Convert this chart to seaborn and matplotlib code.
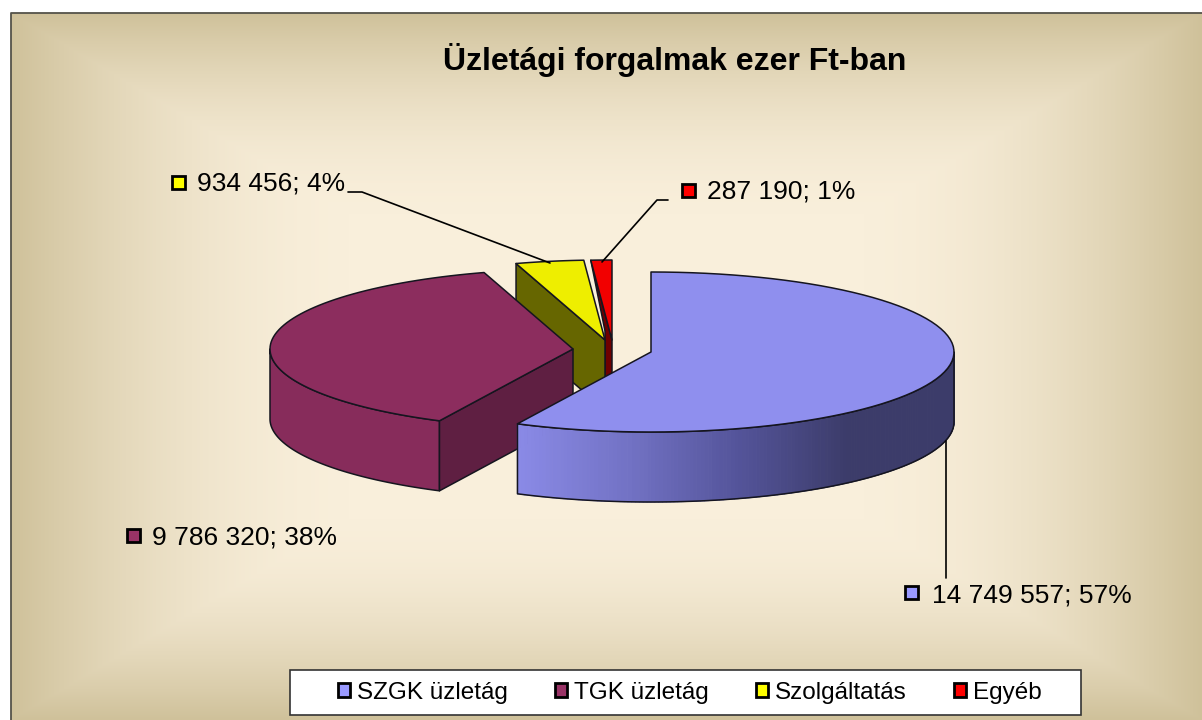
import numpy as np
import matplotlib
matplotlib.use("Agg")
import matplotlib.pyplot as plt
import seaborn as sns
from matplotlib.patches import Polygon, Rectangle, Patch
from matplotlib.collections import PolyCollection

# Data
categories = ["SZGK üzletág", "TGK üzletág", "Szolgáltatás", "Egyéb"]
values = [14749557, 9786320, 934456, 287190]
title = "Üzletági forgalmak ezer Ft-ban"

top_colors = ["#8f8fee", "#8c2d5e", "#eeee00", "#f20000"]
cut_colors = ["#3c3c6a", "#5f1f42", "#666600", "#6e0000"]
swatch_colors = ["#9999ff", "#993366", "#ffff00", "#ff0000"]

# Pie layout in image pixels
centers = [(651, 352), (573, 349), (605, 340), (612, 340)]
rx, ry, depth = 303, 80, 70

sns.set_theme(style="white")
plt.rcParams["font.family"] = ["Liberation Sans", "DejaVu Sans"]

fig = plt.figure(figsize=(12.02, 7.2), dpi=100, facecolor="white")
ax = fig.add_axes([0, 0, 1, 1])
ax.set_xlim(0, 1202)
ax.set_ylim(720, 0)
ax.axis("off")

# Background: rectangular gradient, flat cream box in the middle
x0, y0, x1, y1 = 11, 13, 1202, 720
n_shades = 256
bg_pal = np.array(sns.blend_palette(["#f9efdb", "#cfc19a"], n_shades))
xx, yy = np.meshgrid(np.linspace(-1, 1, x1 - x0), np.linspace(-1, 1, y1 - y0))
dist = np.maximum(np.abs(xx), np.abs(yy))
shade = np.clip((dist - 0.4) / 0.6, 0, 1) ** 1.9
bg = bg_pal[(shade * (n_shades - 1)).astype(int)]
ax.imshow(bg, extent=(x0, x1, y1, y0), aspect="auto", zorder=0, interpolation="bilinear")
ax.set_xlim(0, 1202)
ax.set_ylim(720, 0)
ax.plot([x0, x0, x1], [y1, y0, y0], color="#55534a", lw=1.3, zorder=1)

shares = np.array(values) / sum(values)
edges = np.concatenate([[0], np.cumsum(shares) * 360])


def arc(center, a0, a1, drop=0, n=80):
    # angles run clockwise from the top of the ellipse
    t = np.radians(np.linspace(a0, a1, n))
    return np.column_stack([center[0] + rx * np.sin(t), center[1] - ry * np.cos(t) + drop])


def wall(center, a0, a1):
    return np.vstack([arc(center, a0, a1), arc(center, a0, a1, depth)[::-1]])


def cut_face(center, angle):
    p = arc(center, angle, angle, n=1)[0]
    return [p, center, (center[0], center[1] + depth), (p[0], p[1] + depth)]


line = dict(edgecolor="#15151f", linewidth=1.1, joinstyle="round")

# Red slice: thin dark cut face, then the top
c = centers[3]
p = arc(c, edges[3], edges[3], n=1)[0]
strip = [p, c, (c[0], c[1] + depth), (c[0] - 7, c[1] + depth), (c[0] - 7, c[1] - 9)]
ax.add_patch(Polygon(strip, facecolor=cut_colors[3], zorder=3, **line))
ax.add_patch(Polygon(np.vstack([[c], arc(c, edges[3], edges[4])]), facecolor=top_colors[3], zorder=3, **line))

# Yellow slice
c = centers[2]
ax.add_patch(Polygon(cut_face(c, edges[2]), facecolor=cut_colors[2], zorder=4, **line))
ax.add_patch(Polygon(np.vstack([[c], arc(c, edges[2], edges[3])]), facecolor=top_colors[2], zorder=4, **line))

# Maroon slice
c = centers[1]
ax.add_patch(Polygon(wall(c, edges[1], 270), facecolor="#872c5b", zorder=5, **line))
ax.add_patch(Polygon(cut_face(c, edges[1]), facecolor=cut_colors[1], zorder=5, **line))
ax.add_patch(Polygon(np.vstack([[c], arc(c, edges[1], edges[2])]), facecolor=top_colors[1], zorder=5, **line))

# Blue slice: shaded outer wall made of thin strips
c = centers[0]
n_strips = 160
steps = np.linspace(90, edges[1], n_strips + 1)
strips = [wall(c, steps[i], steps[i + 1]) for i in range(n_strips)]
mid_x = np.array([s[:, 0].mean() for s in strips])
frac = (mid_x - mid_x.min()) / (mid_x.max() - mid_x.min())
wall_pal = np.array(sns.blend_palette(["#8a8ae6", "#7272c4", "#54549a", "#3c3c6a", "#3c3c6a"], 256))
strip_cols = wall_pal[(frac * 255).astype(int)]
ax.add_collection(PolyCollection(strips, facecolors=strip_cols, edgecolors=strip_cols, linewidths=0.8, zorder=6))
ax.add_patch(Polygon(wall(c, 90, edges[1]), facecolor="none", zorder=6, **line))
ax.add_patch(Polygon(np.vstack([[c], arc(c, 0, edges[1])]), facecolor=top_colors[0], zorder=6, **line))

# Leader lines
leaders = [
    ([946, 946], [441, 578]),
    ([348, 362, 550], [192, 192, 263]),
    ([668, 657, 602], [200, 200, 262]),
]
for lx, ly in leaders:
    ax.plot(lx, ly, color="black", lw=1.2, zorder=7)

# Data labels: swatch x, swatch y, text x, text y
label_pos = [(911, 593, 932, 595), (133, 536, 152, 538), (178, 183, 197, 184), (688, 191, 707, 192)]
for val, share, col, (sx, sy, tx, ty) in zip(values, shares, swatch_colors, label_pos):
    ax.add_patch(Rectangle((sx - 6.5, sy - 7), 13, 13, facecolor=col, edgecolor="black", linewidth=2, zorder=8))
    txt = f"{val:,}".replace(",", " ") + f"; {share * 100:.0f}%"
    ax.text(tx, ty, txt, fontsize=19, color="black", va="center", ha="left", zorder=8)

ax.text(675, 60, title, fontsize=23, fontweight="bold", color="black", ha="center", va="center", zorder=8)

# Legend box
ax.add_patch(Rectangle((290, 670), 791, 45, facecolor="white", edgecolor="#333333", linewidth=1.2, zorder=8))
handles = [Patch(facecolor=col, edgecolor="black", linewidth=2) for col in swatch_colors]
ax.legend(handles, categories, ncol=4, frameon=False, loc="center",
          bbox_to_anchor=(690 / 1202, 1 - 692.5 / 720), bbox_transform=ax.transAxes,
          fontsize=17.5, handlelength=0.5, handleheight=0.5, handletextpad=0.3, columnspacing=1.92,
          labelcolor="black").set_zorder(9)

fig.savefig("out.png", dpi=100, facecolor="white")
